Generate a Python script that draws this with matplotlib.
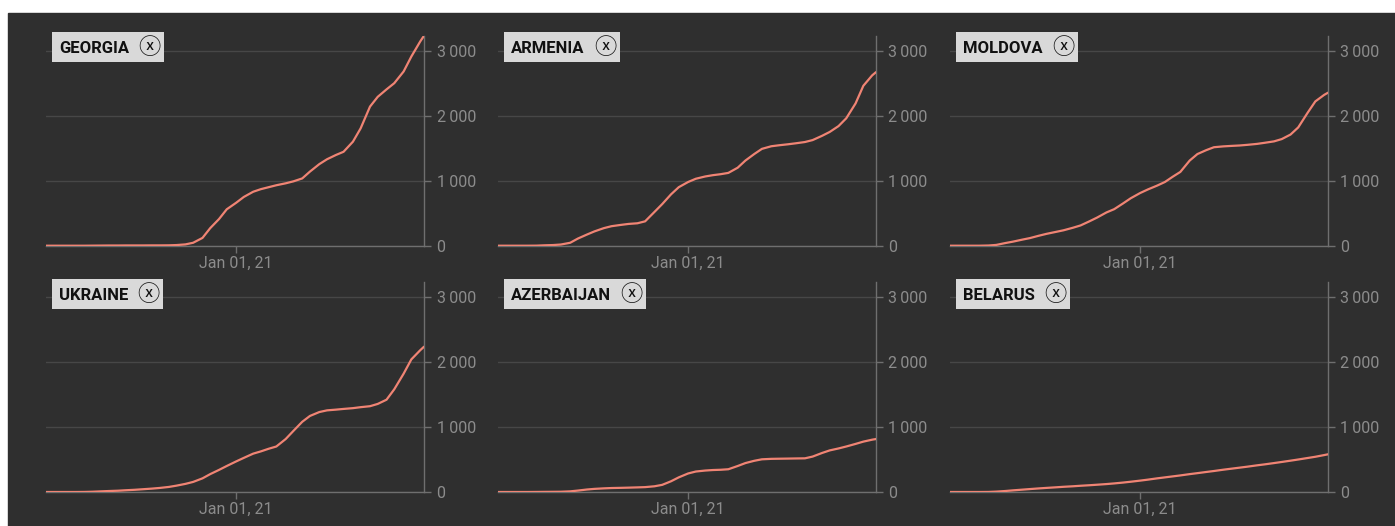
import matplotlib.pyplot as plt
import pandas as pd
from matplotlib.patches import Rectangle

# Sample dates: start, 1st and 15th of each month, end
dates = ["2020-01-22"]
for m in pd.date_range("2020-02-01", "2021-12-01", freq="MS"):
    dates.append(m.strftime("%Y-%m-%d"))
    if m < pd.Timestamp("2021-12-01"):
        dates.append((m + pd.Timedelta(days=14)).strftime("%Y-%m-%d"))
dates.append("2021-12-08")
dates = pd.to_datetime(dates)

countries = ["GEORGIA", "ARMENIA", "MOLDOVA", "UKRAINE", "AZERBAIJAN", "BELARUS"]

georgia = [0, 0, 0, 0, 0, 0, 1, 2, 3, 3, 4, 4, 4, 5, 5, 6, 10, 20, 45, 120, 270, 410, 560,
           660, 750, 830, 870, 900, 930, 960, 990, 1035, 1140, 1255, 1330, 1395, 1445,
           1600, 1805, 2140, 2290, 2405, 2500, 2680, 2910, 3140, 3230]
armenia = [0, 0, 0, 0, 0, 1, 6, 10, 18, 45, 110, 170, 220, 270, 300, 320, 335, 345, 375,
           520, 640, 790, 900,
           980, 1030, 1065, 1085, 1100, 1120, 1200, 1310, 1410, 1490, 1530, 1545, 1560,
           1575, 1595, 1625, 1690, 1750, 1840, 1960, 2190, 2460, 2620, 2670]
moldova = [0, 0, 0, 0, 0, 3, 12, 40, 62, 93, 117, 153, 182, 212, 237, 276, 312, 375, 433,
           512, 562, 650, 730,
           810, 865, 925, 980, 1060, 1135, 1310, 1410, 1470, 1515, 1528, 1535, 1542, 1552,
           1566, 1583, 1605, 1640, 1710, 1820, 2045, 2220, 2320, 2354]
ukraine = [0, 0, 0, 0, 0, 1, 4, 10, 15, 20, 27, 34, 42, 52, 62, 78, 98, 125, 155, 210,
           275, 340, 400,
           470, 525, 590, 625, 665, 700, 815, 940, 1080, 1170, 1230, 1256, 1267, 1278,
           1290, 1305, 1320, 1355, 1420, 1580, 1820, 2040, 2180, 2235]
azerbaijan = [0, 0, 0, 0, 0, 1, 2, 3, 4, 10, 22, 38, 48, 56, 61, 64, 67, 71, 75, 88, 110,
              165, 225,
              285, 315, 330, 338, 342, 350, 400, 445, 480, 503, 510, 512, 514, 516, 518,
              545, 600, 640, 670, 700, 740, 775, 805, 815]
belarus = [0, 0, 0, 0, 0, 1, 6, 15, 25, 36, 45, 55, 63, 72, 80, 88, 96, 104, 112, 122,
           132, 145, 158,
           175, 190, 210, 225, 240, 255, 275, 290, 308, 323, 343, 358, 375, 390, 410, 425,
           445, 462, 482, 500, 523, 542, 568, 580]
series = [georgia, armenia, moldova, ukraine, azerbaijan, belarus]

y_ticks = [0, 1000, 2000, 3000]
y_labels = ["0", "1\u2009000", "2\u2009000", "3\u2009000"]
x_tick = pd.Timestamp("2021-01-01")
x_label = "Jan 01, 21"

BG = "#2f2f2f"
GRID = "#474747"
AXC = "#6f6f6f"
TXT = "#8c8c8c"
LINE = "#f08474"
FONT = ["Roboto", "DejaVu Sans"]

W, H = 1395, 526
fig = plt.figure(figsize=(W / 100, H / 100), dpi=100)
fig.patch.set_facecolor("white")
fig.patches.append(Rectangle((8 / W, 0), 1 - 8 / W, 1 - 13 / H,
                             transform=fig.transFigure, color=BG, zorder=-10))

ytop = 3230
labels = []
for i, (name, vals) in enumerate(zip(countries, series)):
    r, c = divmod(i, 3)
    base = 245.7 if r == 0 else 492
    left = 46 + 452 * c
    height = ytop * 0.065
    ax = fig.add_axes([left / W, 1 - base / H, 378 / W, height / H])
    ax.set_facecolor("none")
    ax.plot(dates, vals, color=LINE, lw=1.6, solid_capstyle="round", zorder=3)
    ax.set_xlim(dates[0], dates[-1])
    ax.set_ylim(0, ytop)

    for s in ["top", "left"]:
        ax.spines[s].set_visible(False)
    for s in ["right", "bottom"]:
        ax.spines[s].set_color(AXC)
        ax.spines[s].set_linewidth(1)

    ax.yaxis.tick_right()
    ax.set_yticks(y_ticks)
    ax.set_yticklabels(y_labels, fontfamily=FONT)
    ax.set_xticks([x_tick])
    ax.set_xticklabels([x_label], fontfamily=FONT)
    ax.tick_params(axis="both", colors=AXC, labelcolor=TXT, labelsize=11.5,
                   length=5, width=1, pad=2)
    ax.tick_params(axis="y", pad=4)
    ax.grid(axis="y", color=GRID, lw=1)
    ax.set_axisbelow(True)

    # country tag (text + close icon), box drawn after measuring
    cy = base - height + 11.5
    t = fig.text((left + 13) / W, 1 - cy / H, name, ha="left", va="center_baseline",
                 fontsize=12, fontweight="bold", family=FONT, color="#111111", zorder=6)
    labels.append((t, left, cy))

fig.canvas.draw()
for t, left, cy in labels:
    bb = t.get_window_extent()
    ix = bb.x1 + 12 + 8.5
    fig.text(ix / W, 1 - (cy + 0.5) / H, "\u24e7", ha="center", va="center",
             fontsize=16, family=["Noto Sans CJK SC", "DejaVu Sans"],
             color="#111111", zorder=6)
    box_left = left + 6
    box_right = ix + 8.5 + 6
    fig.patches.append(Rectangle((box_left / W, 1 - (cy + 15) / H),
                                 (box_right - box_left) / W, 30 / H,
                                 transform=fig.transFigure, fc="#d9d9d9", ec="none",
                                 zorder=5))

fig.savefig("out.png", dpi=100, facecolor=fig.get_facecolor())
